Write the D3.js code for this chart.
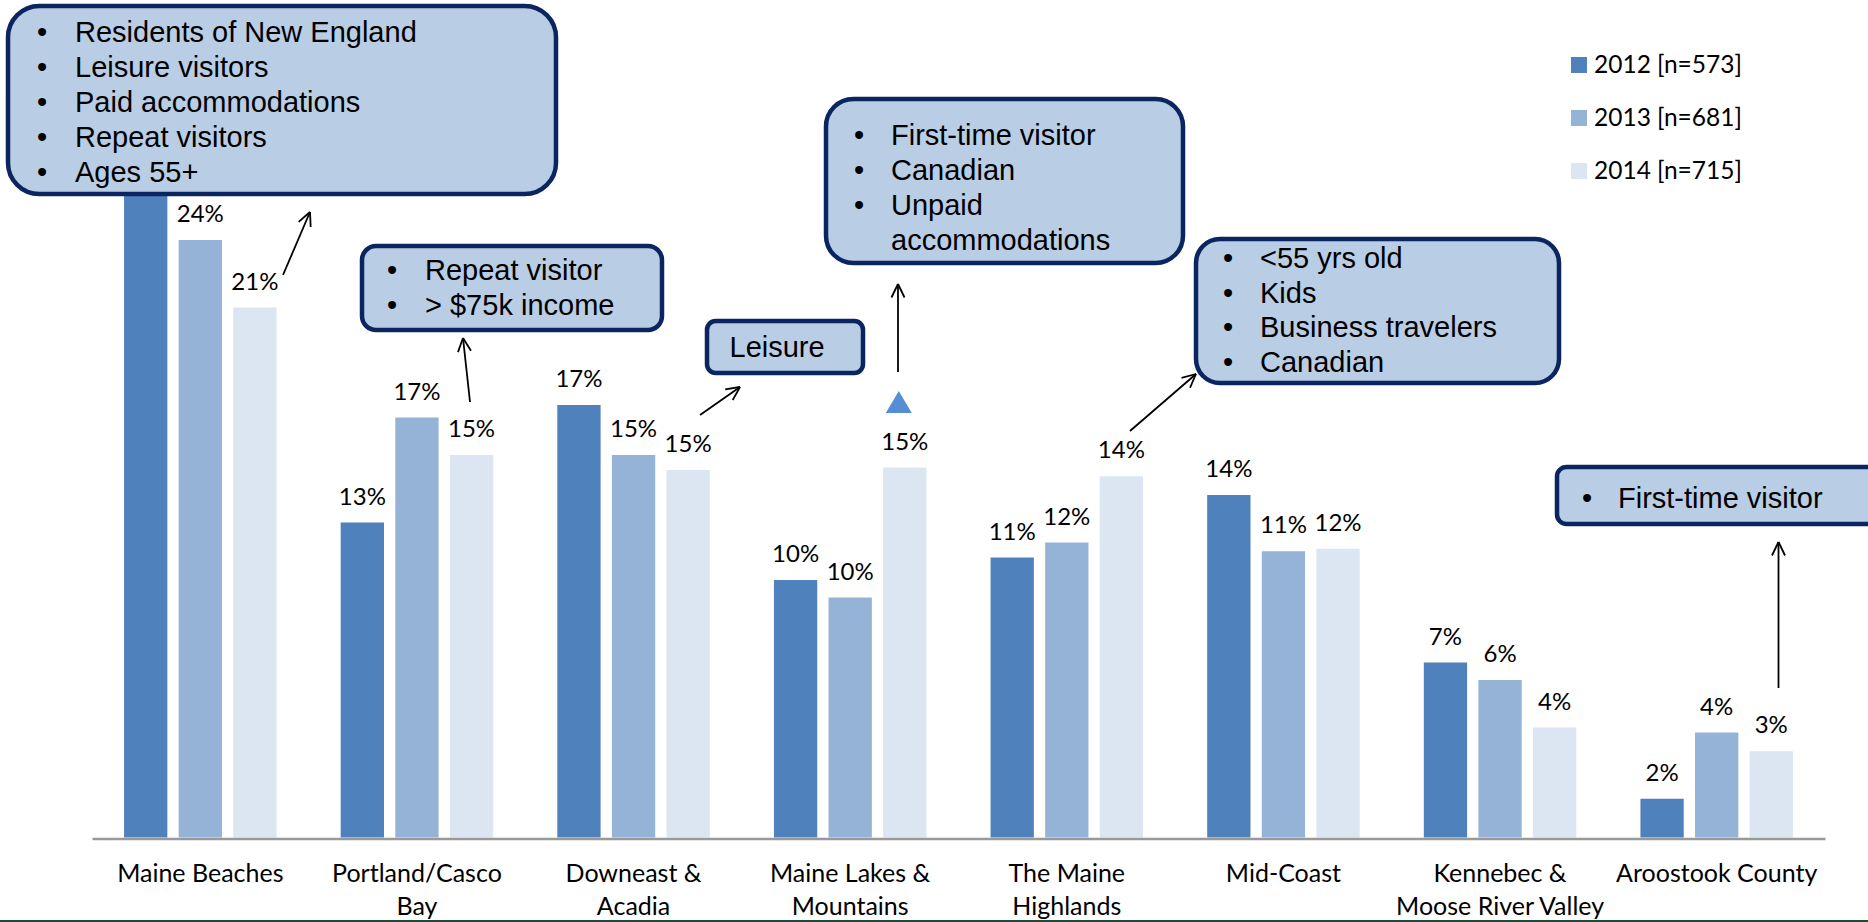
<!DOCTYPE html>
<html>
<head>
<meta charset="utf-8">
<script src="https://cdn.jsdelivr.net/npm/d3@7"></script>
<style>
  html, body { margin: 0; padding: 0; background: #ffffff; }
  svg { display: block; }
</style>
</head>
<body>
<svg id="chart" width="1868" height="922"></svg>
<script>
// ---------- DATA ----------
const categories = ["Maine Beaches", "Portland/Casco Bay", "Downeast & Acadia", "Maine Lakes & Mountains",
  "The Maine Highlands", "Mid-Coast", "Kennebec & Moose River Valley", "Aroostook County"];
const categoryLines = [["Maine Beaches"], ["Portland/Casco", "Bay"], ["Downeast &", "Acadia"],
  ["Maine Lakes &", "Mountains"], ["The Maine", "Highlands"], ["Mid-Coast"],
  ["Kennebec &", "Moose River Valley"], ["Aroostook County"]];
const seriesNames = ["2012 [n=573]", "2013 [n=681]", "2014 [n=715]"];
const values2012 = [27.0, 12.6, 17.3, 10.3, 11.2, 13.7, 7.0, 1.55];
const values2013 = [23.9, 16.8, 15.3, 9.6, 11.8, 11.45, 6.3, 4.2];
const values2014 = [21.2, 15.3, 14.7, 14.8, 14.45, 11.55, 4.4, 3.45];
const seriesValues = [values2012, values2013, values2014];

// annotation callouts (text content)
const calloutTexts = [
  ["Residents of New England", "Leisure visitors", "Paid accommodations", "Repeat visitors", "Ages 55+"],
  ["Repeat visitor", "> $75k income"],
  ["Leisure"],
  ["First-time visitor", "Canadian", "Unpaid", "accommodations"],
  ["<55 yrs old", "Kids", "Business travelers", "Canadian"],
  ["First-time visitor"]
];

// ---------- LAYOUT / STYLE ----------
const colors = ["#4f81bd", "#95b3d7", "#dce6f2"];
const labelFont = "Lato, 'Open Sans', sans-serif";
const boxFont = "'Liberation Sans', Arial, sans-serif";

const boxes = [
  { x: 8, y: 6, w: 548, h: 188, bx: 42, tx: 75, ty: 41.7, dy: 35 },
  { x: 362, y: 246, w: 300, h: 84, bx: 392, tx: 425, ty: 280, dy: 35 },
  { x: 707, y: 321, w: 156, h: 52, bx: null, tx: 729.5, ty: 357, dy: 35 },
  { x: 826, y: 99, w: 357, h: 164, bx: 859, tx: 891, ty: 145, dy: 35 },
  { x: 1196, y: 239, w: 363, h: 144, bx: 1228, tx: 1260, ty: 268, dy: 34.5 },
  { x: 1557, y: 467, w: 330, h: 57, bx: 1587, tx: 1618, ty: 508, dy: 35 }
];
const bulletFlags = [[1,1,1,1,1],[1,1],[0],[1,1,1,0],[1,1,1,1],[1]];

const arrows = [
  [283, 275, 310, 212],
  [470, 402, 463, 338],
  [700, 415, 740, 387],
  [898, 372, 898, 284],
  [1130, 431, 1196, 374],
  [1778.5, 688, 1778.5, 542]
];

const svg = d3.select("#chart");
const baseY = 837.5;

const x0 = d3.scaleBand().domain(categories).range([92, 1825]).paddingInner(0.296).paddingOuter(0.148);
const x1 = d3.scaleBand().domain(seriesNames).range([0, x0.bandwidth()]).paddingInner(0.207).paddingOuter(0);
const y = d3.scaleLinear().domain([0, 30]).range([baseY, baseY - 750]);

const rows = categories.map((c, i) => ({ cat: c, vals: seriesValues.map((s, j) => ({ cat: c, name: seriesNames[j], v: s[i], j })) }));

const groups = svg.append("g").selectAll("g").data(rows).join("g")
  .attr("transform", d => `translate(${x0(d.cat)},0)`);

groups.selectAll("rect").data(d => d.vals).join("rect")
  .attr("x", d => x1(d.name))
  .attr("y", d => y(d.v))
  .attr("width", x1.bandwidth())
  .attr("height", d => y(0) - y(d.v))
  .attr("fill", d => colors[d.j]);

// a value label hidden behind a callout box (as in the reference) is not drawn
function occluded(d) {
  const cx = x0(d.cat) + x1(d.name) + x1.bandwidth() / 2;
  const ly = y(d.v) - 18;
  return boxes.some(b => cx > b.x && cx < b.x + b.w && ly > b.y && ly - 18 < b.y + b.h);
}

groups.selectAll("text.val").data(d => d.vals.filter(v => !occluded(v))).join("text")
  .attr("class", "val")
  .attr("x", d => x1(d.name) + x1.bandwidth() / 2)
  .attr("y", d => y(d.v) - 18)
  .attr("text-anchor", "middle")
  .style("font-family", labelFont)
  .style("font-size", "24px")
  .style("fill", "#000")
  .text(d => Math.round(d.v) + "%");

// axis line
const xAxis = d3.axisBottom(x0).tickSize(0).tickFormat("");
const axG = svg.append("g").attr("transform", `translate(0,${baseY + 1})`).call(xAxis);
axG.select(".domain").attr("stroke", "#999999").attr("stroke-width", 2.5);

// category labels
categories.forEach((c, i) => {
  const t = svg.append("text")
    .attr("text-anchor", "middle")
    .style("font-family", labelFont)
    .style("font-size", "25px")
    .style("fill", "#000");
  categoryLines[i].forEach((ln, k) => {
    t.append("tspan").attr("x", x0(c) + x0.bandwidth() / 2).attr("y", 882 + k * 33).text(ln);
  });
});

// legend
const legend = svg.append("g");
seriesNames.forEach((s, j) => {
  const ly = 57 + j * 53;
  legend.append("rect").attr("x", 1571).attr("y", ly).attr("width", 16).attr("height", 16).attr("fill", colors[j]);
  legend.append("text").attr("x", 1594).attr("y", ly + 16)
    .style("font-family", labelFont).style("font-size", "24.5px").style("fill", "#000").text(s);
});

// ---------- ANNOTATIONS ----------
function drawArrow(a) {
  const [xa, ya, xb, yb] = a;
  const g = svg.append("g").attr("stroke", "#000").attr("stroke-width", 1.8).attr("fill", "none");
  g.append("line").attr("x1", xa).attr("y1", ya).attr("x2", xb).attr("y2", yb);
  const ang = Math.atan2(yb - ya, xb - xa);
  const L = 15, spread = 0.45;
  [ang + Math.PI - spread, ang + Math.PI + spread].forEach(t => {
    g.append("line").attr("x1", xb).attr("y1", yb)
      .attr("x2", xb + L * Math.cos(t)).attr("y2", yb + L * Math.sin(t));
  });
}
arrows.forEach(drawArrow);

// triangle marker (increase) above Maine Lakes 2014 bar
const triX = x0(categories[3]) + x1(seriesNames[2]) + x1.bandwidth() / 2 - 6;
svg.append("path")
  .attr("d", `M${triX},391 L${triX + 13},413 L${triX - 13},413 Z`)
  .attr("fill", "#558ed5");

boxes.forEach((b, i) => {
  const r = Math.min(b.w, b.h) * 0.1667;
  svg.append("rect").attr("x", b.x).attr("y", b.y).attr("width", b.w).attr("height", b.h)
    .attr("rx", r).attr("ry", r)
    .attr("fill", "#b9cde5").attr("stroke", "#0b2560").attr("stroke-width", 4.5);
  calloutTexts[i].forEach((ln, k) => {
    const yy = b.ty + k * b.dy;
    if (b.bx !== null && bulletFlags[i][k]) {
      svg.append("text").attr("x", b.bx).attr("y", yy).attr("text-anchor", "middle")
        .style("font-family", boxFont).style("font-size", "29px").style("fill", "#000").text("\u2022");
    }
    svg.append("text").attr("x", b.tx).attr("y", yy)
      .style("font-family", boxFont).style("font-size", "29px").style("fill", "#000").text(ln);
  });
});

// bottom rule
svg.append("rect").attr("x", 0).attr("y", 920).attr("width", 1868).attr("height", 2).attr("fill", "#1d4b3a");
</script>
</body>
</html>
